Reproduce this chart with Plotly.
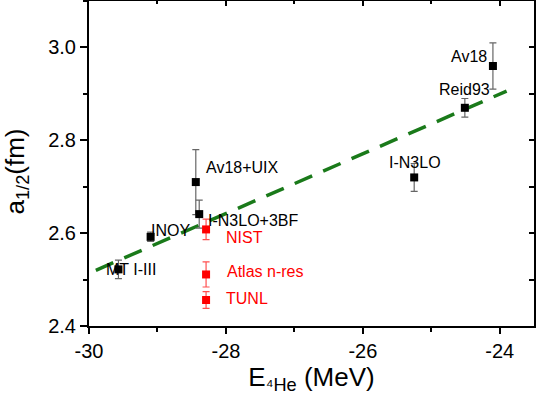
import plotly.graph_objects as go

# ---- data ----
theory_labels = ["MT I-III", "INOY", "Av18+UIX", "I-N3LO+3BF", "I-N3LO", "Reid93", "Av18"]
theory_E = [-29.57, -29.10, -28.44, -28.39, -25.25, -24.51, -24.10]
theory_a = [2.522, 2.592, 2.710, 2.641, 2.720, 2.870, 2.960]
theory_err = [0.020, 0.010, 0.070, 0.030, 0.030, 0.020, 0.050]

exp_labels = ["NIST", "Atlas n-res", "TUNL"]
exp_E = [-28.29, -28.29, -28.29]
exp_a = [2.608, 2.511, 2.456]
exp_err = [0.022, 0.027, 0.018]

fit_E = [-29.90, -23.90]
fit_a = [2.520, 2.906]

x_tick_vals = [-30, -28, -26, -24]
x_tick_text = ["-30", "-28", "-26", "-24"]
y_tick_vals = [2.4, 2.6, 2.8, 3.0]
y_tick_text = ["2.4", "2.6", "2.8", "3.0"]

x_range = [-30, -23.5]
y_range = [2.4, 3.1]

FONT = "Arial, Liberation Sans, sans-serif"

fig = go.Figure()

fig.add_trace(go.Scatter(
    x=fit_E, y=fit_a, mode="lines",
    line=dict(color="#1a7a1a", width=3.5, dash="19px,12px"),
    showlegend=False, hoverinfo="skip"))

fig.add_trace(go.Scatter(
    x=theory_E, y=theory_a, mode="markers",
    marker=dict(symbol="square", size=8, color="black"),
    error_y=dict(type="data", array=theory_err, color="#666666", thickness=1.2, width=3.5),
    showlegend=False))

fig.add_trace(go.Scatter(
    x=exp_E, y=exp_a, mode="markers",
    marker=dict(symbol="square", size=8, color="#ff0000"),
    error_y=dict(type="data", array=exp_err, color="#ff5050", thickness=1.2, width=3.5),
    showlegend=False))

# invisible trace to activate mirror axes (top / right with inward ticks)
fig.add_trace(go.Scatter(x=[None], y=[None], xaxis="x2", yaxis="y2",
                         mode="markers", showlegend=False, hoverinfo="skip"))

# label placement (pixel offsets relative to each point)
theory_label_style = {
    "MT I-III": ("left", -14, 0),
    "INOY": ("left", -2, 6),
    "Av18+UIX": ("left", 8, 15),
    "I-N3LO+3BF": ("left", 7, -6),
    "I-N3LO": ("center", 1, 15),
    "Reid93": ("center", 0, 18),
    "Av18": ("right", -4, 10),
}
exp_label_style = {
    "NIST": ("left", 18, -8),
    "Atlas n-res": ("left", 19, 3),
    "TUNL": ("left", 18, 2),
}

annotations = []
for lab, xv, yv in zip(theory_labels, theory_E, theory_a):
    anc, dx, dy = theory_label_style[lab]
    annotations.append(dict(x=xv, y=yv, xref="x", yref="y", text=lab, showarrow=False,
                            xanchor=anc, yanchor="middle", xshift=dx, yshift=dy,
                            font=dict(family=FONT, size=16, color="black")))
for lab, xv, yv in zip(exp_labels, exp_E, exp_a):
    anc, dx, dy = exp_label_style[lab]
    annotations.append(dict(x=xv, y=yv, xref="x", yref="y", text=lab, showarrow=False,
                            xanchor=anc, yanchor="middle", xshift=dx, yshift=dy,
                            font=dict(family=FONT, size=16, color="#ff0000")))

# y-axis title as a rotated annotation for exact placement
annotations.append(dict(x=0, y=0.5, xref="paper", yref="paper", text="a<sub>1/2</sub>(fm)",
                        showarrow=False, textangle=-90, xanchor="center", yanchor="middle",
                        xshift=-73, yshift=-8, font=dict(family=FONT, size=26, color="black")))

axis_common = dict(showgrid=False, zeroline=False, showline=True, linecolor="black",
                   linewidth=2, tickcolor="black", tickwidth=1.5)

fig.update_layout(
    width=536, height=395,
    margin=dict(l=89, r=2, t=1, b=69),
    paper_bgcolor="white", plot_bgcolor="white",
    font=dict(family=FONT, color="black"),
    xaxis=dict(range=x_range, tickmode="array", tickvals=x_tick_vals, ticktext=x_tick_text,
               ticks="outside", ticklen=6,
               tickfont=dict(size=20), minor=dict(dtick=1, tick0=-30, ticks="outside", ticklen=4,
                                                   tickcolor="black", tickwidth=1.5),
               title=dict(text="E<sub>⁴He</sub> (MeV)", font=dict(size=26), standoff=2),
               **axis_common),
    yaxis=dict(range=y_range, tickmode="array", tickvals=y_tick_vals, ticktext=y_tick_text,
               ticks="outside", ticklen=7,
               tickfont=dict(size=20), minor=dict(dtick=0.1, tick0=2.4, ticks="outside", ticklen=4,
                                                   tickcolor="black", tickwidth=1.5),
               automargin=False,
               **axis_common),
    xaxis2=dict(range=x_range, overlaying="x", side="top", anchor="y2", dtick=2, tick0=-30,
                ticks="inside", ticklen=5, showticklabels=False,
                minor=dict(dtick=1, ticks="inside", ticklen=3, tickcolor="black", tickwidth=1.5),
                **axis_common),
    yaxis2=dict(range=y_range, overlaying="y", side="right", anchor="x2", dtick=0.2, tick0=2.4,
                ticks="inside", ticklen=5, showticklabels=False,
                minor=dict(dtick=0.1, ticks="inside", ticklen=5, tickcolor="black", tickwidth=1.5),
                **axis_common),
    annotations=annotations,
)

fig.write_html("out.html", config={"displayModeBar": False},
               post_script="document.body.style.margin='0';document.body.style.padding='0';")
